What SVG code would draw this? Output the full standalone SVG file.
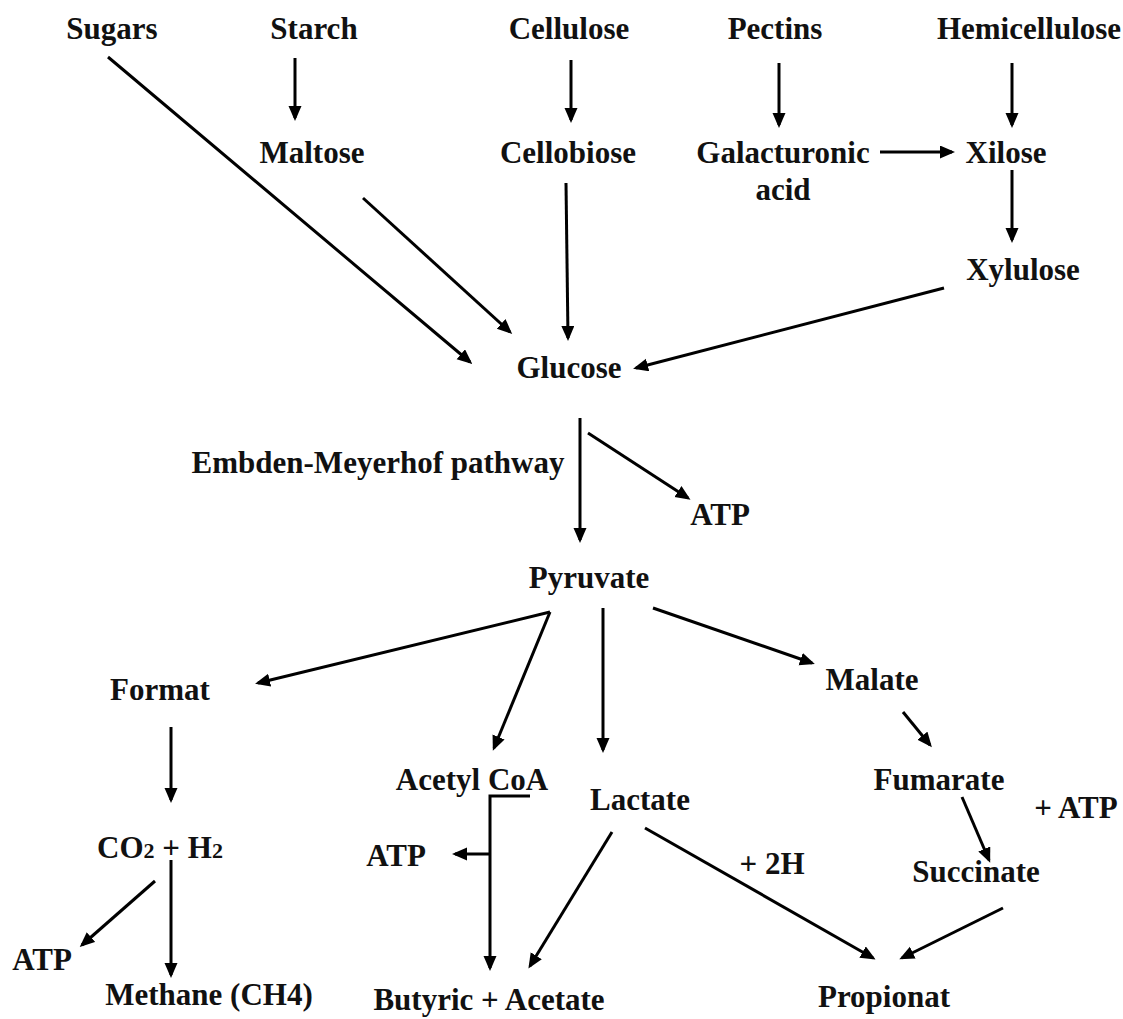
<svg xmlns="http://www.w3.org/2000/svg" width="1123" height="1019" viewBox="0 0 1123 1019">
<style>
text{font-family:"Liberation Serif","Times New Roman",serif;font-weight:bold;font-size:31px;fill:#111;text-anchor:middle}
.c line,.c path{stroke:#000;stroke-width:3;fill:none}
.a{marker-end:url(#ah)}
</style>
<defs>
<marker id="ah" markerUnits="userSpaceOnUse" markerWidth="16" markerHeight="14" refX="12" refY="6.5" orient="auto">
<path d="M0,0 L15,6.5 L0,13 z" fill="#000"/>
</marker>
</defs>
<rect width="1123" height="1019" fill="#fff"/>
<g id="sugars"><text x="112" y="39">Sugars</text></g>
<g id="starch"><text x="314" y="39">Starch</text></g>
<g id="cellulose"><text x="569" y="39">Cellulose</text></g>
<g id="pectins"><text x="775" y="39">Pectins</text></g>
<g id="hemicellulose"><text x="1029" y="39">Hemicellulose</text></g>
<g id="maltose"><text x="312" y="163">Maltose</text></g>
<g id="cellobiose"><text x="568" y="163">Cellobiose</text></g>
<g id="galacturonic"><text x="783" y="163">Galacturonic</text><text x="783" y="200">acid</text></g>
<g id="xilose"><text x="1006" y="163">Xilose</text></g>
<g id="xylulose"><text x="1023" y="280">Xylulose</text></g>
<g id="glucose"><text x="569" y="378">Glucose</text></g>
<g id="embden"><text x="378" y="473">Embden-Meyerhof pathway</text></g>
<g id="atp1"><text x="720" y="525">ATP</text></g>
<g id="pyruvate"><text x="589" y="588">Pyruvate</text></g>
<g id="format"><text x="160" y="700">Format</text></g>
<g id="malate"><text x="872" y="690">Malate</text></g>
<g id="acetylcoa"><text x="472" y="790">Acetyl CoA</text></g>
<g id="lactate"><text x="640" y="810">Lactate</text></g>
<g id="fumarate"><text x="939" y="790">Fumarate</text></g>
<g id="plusatp"><text x="1076" y="818">+ ATP</text></g>
<g id="co2h2"><text x="160" y="858">CO<tspan font-size="22">2</tspan> + H<tspan font-size="22">2</tspan></text></g>
<g id="atp2"><text x="396" y="866">ATP</text></g>
<g id="plus2h"><text x="772" y="874">+ 2H</text></g>
<g id="succinate"><text x="976" y="882">Succinate</text></g>
<g id="atp3"><text x="42" y="970">ATP</text></g>
<g id="methane"><text x="209" y="1005">Methane (CH4)</text></g>
<g id="butyric"><text x="489" y="1010">Butyric + Acetate</text></g>
<g id="propionat"><text x="884" y="1007">Propionat</text></g>
<g id="connectors" class="c">
<line class="a" x1="108" y1="57" x2="470" y2="362"/>
<line class="a" x1="295" y1="58" x2="295" y2="118"/>
<line class="a" x1="363" y1="198" x2="510" y2="332"/>
<line class="a" x1="571" y1="60" x2="571" y2="120"/>
<line class="a" x1="566" y1="183" x2="568" y2="338"/>
<line class="a" x1="779" y1="63" x2="779" y2="125"/>
<line class="a" x1="880" y1="152" x2="952" y2="152"/>
<line class="a" x1="1012" y1="63" x2="1012" y2="125"/>
<line class="a" x1="1012" y1="170" x2="1012" y2="240"/>
<line class="a" x1="944" y1="288" x2="636" y2="368"/>
<line class="a" x1="580" y1="418" x2="580" y2="540"/>
<line class="a" x1="588" y1="433" x2="688" y2="498"/>
<line class="a" x1="550" y1="612" x2="258" y2="683"/>
<line class="a" x1="550" y1="612" x2="494" y2="748"/>
<line class="a" x1="603" y1="608" x2="603" y2="750"/>
<line class="a" x1="653" y1="608" x2="812" y2="663"/>
<line class="a" x1="903" y1="712" x2="930" y2="745"/>
<line class="a" x1="171" y1="727" x2="171" y2="800"/>
<line class="a" x1="962" y1="797" x2="989" y2="860"/>
<line class="a" x1="171" y1="860" x2="171" y2="975"/>
<line class="a" x1="155" y1="881" x2="82" y2="945"/>
<path class="a" d="M530,796 H490 V968"/>
<line class="a" x1="490" y1="854" x2="455" y2="854"/>
<line class="a" x1="612" y1="832" x2="530" y2="966"/>
<line class="a" x1="645" y1="828" x2="873" y2="958"/>
<line class="a" x1="1003" y1="908" x2="902" y2="958"/>
</g>
</svg>
